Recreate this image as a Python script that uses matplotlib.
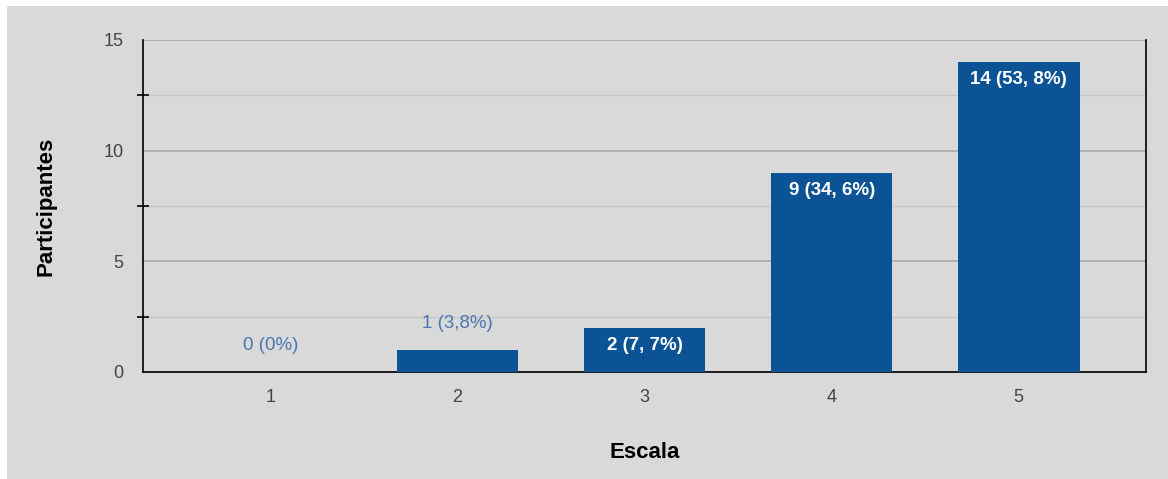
import numpy as np
import matplotlib.pyplot as plt
from matplotlib.patches import Rectangle
from matplotlib.ticker import MultipleLocator

# respostas por nível da escala
escala = ['1', '2', '3', '4', '5']
participantes = [0, 1, 2, 9, 14]
rotulos = ['0 (0%)', '1 (3,8%)', '2 (7, 7%)', '9 (34, 6%)', '14 (53, 8%)']

plt.rcParams['font.family'] = ['Liberation Sans', 'DejaVu Sans']

fig = plt.figure(figsize=(11.68, 4.79), dpi=100, facecolor='white')
fig.patches.append(Rectangle((7 / 1168, 0), 1, 1 - 6 / 479, transform=fig.transFigure,
                             facecolor='#d9d9d9', edgecolor='none', zorder=-10))
ax = fig.add_axes([143 / 1168, 1 - 372 / 479, (1146 - 143) / 1168, (372 - 40) / 479])
ax.set_facecolor('#d9d9d9')

x = np.arange(1, len(escala) + 1)
bars = ax.bar(x, participantes, width=0.65, color='#0b5394', zorder=3)

for xi, v, txt in zip(x, participantes, rotulos):
    if v >= 2:
        ax.text(xi, v - 0.42, txt, ha='center', va='top', color='white',
                fontsize=13.5, fontweight='bold', zorder=4)
    else:
        ax.text(xi, v + 0.8, txt, ha='center', va='bottom', color='#4a78b0',
                fontsize=13.5, zorder=4)

ax.set_xlim(0.32, 5.68)
ax.set_ylim(0, 15)
ax.set_xticks(x)
ax.set_xticklabels(escala)
ax.yaxis.set_major_locator(MultipleLocator(5))
ax.yaxis.set_minor_locator(MultipleLocator(2.5))
ax.tick_params(axis='x', length=0, pad=12, labelsize=13, colors='#444444')
ax.tick_params(axis='y', which='major', length=0, pad=14, labelsize=13, colors='#444444')
ax.tick_params(axis='y', which='minor', length=8, direction='inout', width=1.2, color='black')

ax.grid(axis='y', which='major', color='#a8a8a8', linewidth=1.2, zorder=1)
ax.grid(axis='y', which='minor', color='#c6c6c6', linewidth=1, zorder=1)

for side in ['left', 'bottom', 'right']:
    ax.spines[side].set_color('black')
    ax.spines[side].set_linewidth(1.2)
ax.spines['top'].set_visible(False)

ax.set_xlabel('Escala', fontsize=16, fontweight='bold', labelpad=26)
ax.set_ylabel('Participantes', fontsize=16, fontweight='bold', labelpad=34)

fig.savefig('out.png', dpi=100, facecolor=fig.get_facecolor())
